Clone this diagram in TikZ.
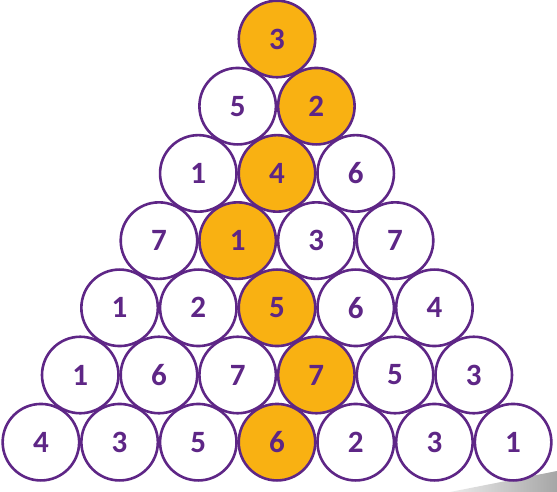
\documentclass[tikz,border=0pt]{standalone}
\usepackage{fontspec}
\setmainfont{Carlito}
\definecolor{pur}{HTML}{5E2686}
\definecolor{org}{HTML}{F9B112}
\begin{document}
\begin{tikzpicture}[x=1pt,y=-1pt,
  ball/.style={circle, draw=pur, line width=2.6pt, minimum size=76.5pt, inner sep=0pt,
    font=\fontsize{31}{31}\selectfont\bfseries, text=pur, fill=white},
  hot/.style={ball, fill=org}]
\useasboundingbox (0,0) rectangle (557,492);
\shade[left color=gray!15, right color=gray!70] (450,492) -- (557,471) -- (557,492) -- cycle;
\foreach [count=\r] \row/\hk in {{3}/1, {5,2}/2, {1,4,6}/2, {7,1,3,7}/2, {1,2,5,6,4}/3, {1,6,7,7,5,3}/4, {4,3,5,6,2,3,1}/4} {
  \foreach [count=\k] \v in \row {
    \pgfmathsetmacro\xx{277+(\k-(\r+1)/2)*78.7}
    \pgfmathsetmacro\yy{39+(\r-1)*67.2}
    \ifnum\k=\hk
      \node[hot] (n\r-\k) at (\xx,\yy) {\v};
    \else
      \node[ball] (n\r-\k) at (\xx,\yy) {\v};
    \fi
  }
}
\end{tikzpicture}
\end{document}
